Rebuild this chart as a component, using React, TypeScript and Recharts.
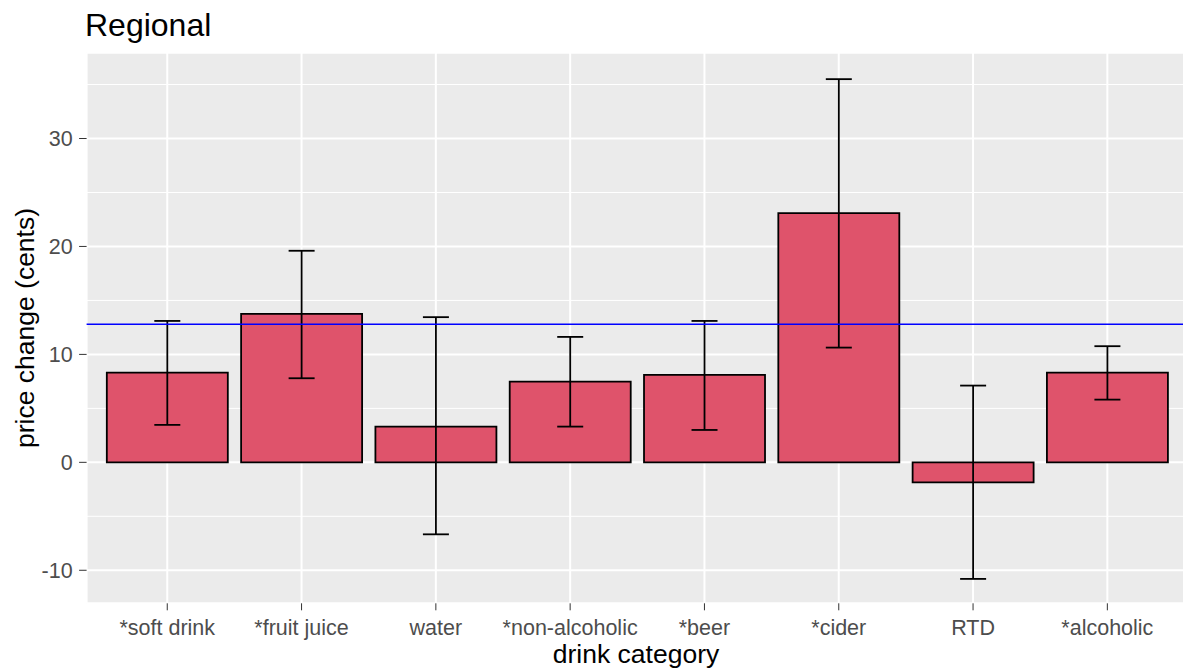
import {
  BarChart,
  Bar,
  XAxis,
  YAxis,
  CartesianGrid,
  ErrorBar,
  ReferenceLine,
  Label,
} from 'recharts'

const categories = [
  '*soft drink',
  '*fruit juice',
  'water',
  '*non-alcoholic',
  '*beer',
  '*cider',
  'RTD',
  '*alcoholic',
]
const priceChange = [8.31, 13.75, 3.31, 7.48, 8.1, 23.09, -1.85, 8.31]
const lowerBound = [3.47, 7.79, -6.67, 3.31, 3.0, 10.63, -10.8, 5.81]
const upperBound = [13.1, 19.6, 13.45, 11.62, 13.1, 35.5, 7.11, 10.76]
const overallMean = 12.8

const majorTicks = [-10, 0, 10, 20, 30]
const minorTicks = [-5, 5, 15, 25, 35]

// error bar deltas for recharts: [below, above]
const rows = categories.map((category, i) => ({
  category,
  change: priceChange[i],
  err: [priceChange[i] - lowerBound[i], upperBound[i] - priceChange[i]],
}))

const FONT = '"Liberation Sans", Arial, sans-serif'

export default function App() {
  return (
    <div
      style={{
        position: 'absolute',
        left: 0,
        top: 0,
        width: 1183,
        height: 670,
        overflow: 'hidden',
        background: '#fff',
        fontFamily: FONT,
      }}
    >
      <div
        style={{
          position: 'absolute',
          left: 85,
          top: 8.5,
          fontSize: 32,
          lineHeight: 1,
          color: '#000',
          whiteSpace: 'nowrap',
        }}
      >
        Regional
      </div>
      <BarChart
        width={1188}
        height={670}
        data={rows}
        margin={{ top: 52.7, right: 0, bottom: 0, left: 0 }}
        barCategoryGap="5%"
      >
        <CartesianGrid stroke="#ffffff" strokeWidth={2} fill="#EBEBEB" />
        <CartesianGrid
          stroke="#ffffff"
          strokeWidth={1}
          vertical={false}
          horizontalValues={minorTicks}
        />
        <XAxis
          dataKey="category"
          height={66.7}
          padding={{ left: 13.5, right: 13.5 }}
          axisLine={false}
          tickLine={{ stroke: '#333333', strokeWidth: 1 }}
          tickSize={7}
          tickMargin={9.7}
          tick={{ fill: '#4D4D4D', fontSize: 21.5 }}
          interval={0}
        >
          <Label
            content={() => (
              <text x={636} y={663} textAnchor="middle" fontSize={26.5} fill="#000">
                drink category
              </text>
            )}
          />
        </XAxis>
        <YAxis
          type="number"
          width={86.6}
          domain={[-13.06, 37.95]}
          allowDataOverflow
          ticks={majorTicks}
          axisLine={false}
          tickLine={{ stroke: '#333333', strokeWidth: 1 }}
          tickSize={7.5}
          tickMargin={6.5}
          tick={{ fill: '#4D4D4D', fontSize: 21.5 }}
        >
          <Label
            content={() => (
              <text
                x={33.5}
                y={328}
                transform="rotate(-90, 33.5, 328)"
                textAnchor="middle"
                fontSize={26.5}
                fill="#000"
              >
                price change (cents)
              </text>
            )}
          />
        </YAxis>
        <Bar
          dataKey="change"
          fill="#DF536B"
          stroke="#000000"
          strokeWidth={1.8}
          isAnimationActive={false}
        >
          <ErrorBar
            dataKey="err"
            direction="y"
            width={13}
            stroke="#000000"
            strokeWidth={1.8}
            isAnimationActive={false}
          />
        </Bar>
        <ReferenceLine y={overallMean} stroke="#0000FF" strokeWidth={1.5} />
      </BarChart>
    </div>
  )
}
